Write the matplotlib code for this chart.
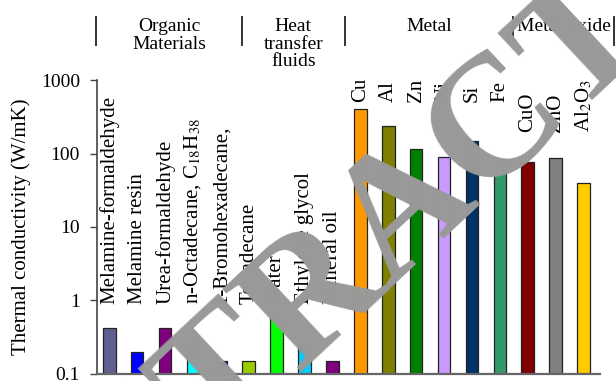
import matplotlib
matplotlib.use("Agg")
import matplotlib.pyplot as plt
import matplotlib.transforms as mtransforms
import numpy as np

plt.rcParams['font.family'] = ['Liberation Serif', 'DejaVu Serif']
plt.rcParams['mathtext.fontset'] = 'stix'

# Materials, grouped
organic = ["Melamine-formaldehyde", "Melamine resin", "Urea-formaldehyde",
           "n-Octadecane, C$_{18}$H$_{38}$", "1-Bromohexadecane,", "Tetradecane"]
fluids = ["Water", "Ethylene glycol", "Mineral oil"]
metals = ["Cu", "Al", "Zn", "Ni", "Si", "Fe"]
oxides = ["CuO", "ZnO", "Al$_2$O$_3$"]

# Thermal conductivity (W/mK)
organic_k = [0.42, 0.20, 0.42, 0.28, 0.15, 0.15]
fluids_k = [0.60, 0.25, 0.15]
metals_k = [401, 237, 116, 91, 148, 80]
oxides_k = [76, 88, 40]

organic_c = ["#606090", "#0000ff", "#800080", "#00ffff", "#0000ff", "#99cc00"]
fluids_c = ["#00ff00", "#00ccff", "#800080"]
metals_c = ["#ff9900", "#808000", "#008000", "#cc99ff", "#003366", "#339966"]
oxides_c = ["#800000", "#808080", "#ffcc00"]

group_names = ["Organic\nMaterials", "Heat\ntransfer\nfluids", "Metal", "Metal oxide"]

names = organic + fluids + metals + oxides
values = np.array(organic_k + fluids_k + metals_k + oxides_k)
colors = organic_c + fluids_c + metals_c + oxides_c
x = np.arange(len(names))

fig = plt.figure(figsize=(6.16, 3.81), dpi=100)
ax = fig.add_axes([0.157, 0.0184, 0.817, 0.7716])

base = 0.1
ax.bar(x, values - base, width=0.45, bottom=base, color=colors,
       edgecolor="#222222", linewidth=0.9, zorder=2)
ax.set_yscale("log")
ax.set_ylim(0.1, 1000)
ax.set_xlim(-0.45, 17.59)
ax.set_yticks([0.1, 1, 10, 100, 1000])
ax.set_yticklabels(["0.1", "1", "10", "100", "1000"])
ax.yaxis.set_minor_locator(matplotlib.ticker.NullLocator())
ax.set_xticks([])
ax.tick_params(axis="y", direction="out", length=5, width=1.0,
               color="#444444", labelsize=14, pad=7)
for s in ("top", "right"):
    ax.spines[s].set_visible(False)
ax.spines["left"].set_color("#444444")
ax.spines["left"].set_linewidth(1.2)
ax.spines["bottom"].set_color("#666666")
ax.spines["bottom"].set_linewidth(1.6)
ax.set_ylabel("Thermal conductivity (W/mK)", fontsize=15, labelpad=7)

# Rotated material names above the bars
label_base = ([0.9] * len(organic) + [0.9] * len(fluids)
              + [510] * len(metals) + [195] * len(oxides))
for xi, name, yb in zip(x, names, label_base):
    ax.text(xi, yb, name, rotation=90, ha="center", va="bottom",
            fontsize=15, clip_on=False)

# Group headers with separators
trans = mtransforms.blended_transform_factory(ax.transData, fig.transFigure)
seps = [-0.48, 4.76, 8.44, 14.47, 18.09]
for sx in seps:
    ax.plot([sx, sx], [1 - 17 / 381, 1 - 45 / 381], transform=trans,
            color="#333333", lw=1.4, clip_on=False)
for i, g in enumerate(group_names):
    cx = (seps[i] + seps[i + 1]) / 2
    fig.text(0, 1 - 18 / 381, g, transform=trans, ha="center", va="top",
             fontsize=14, linespacing=1.05).set_x(cx)

# Watermark
fig.text(0.66, 0.44, "RETRACTED", fontsize=125, color="#999999",
         rotation=43, ha="center", va="center", zorder=10,
         family="Liberation Serif", fontweight="bold")

fig.savefig("out.png", dpi=100)
